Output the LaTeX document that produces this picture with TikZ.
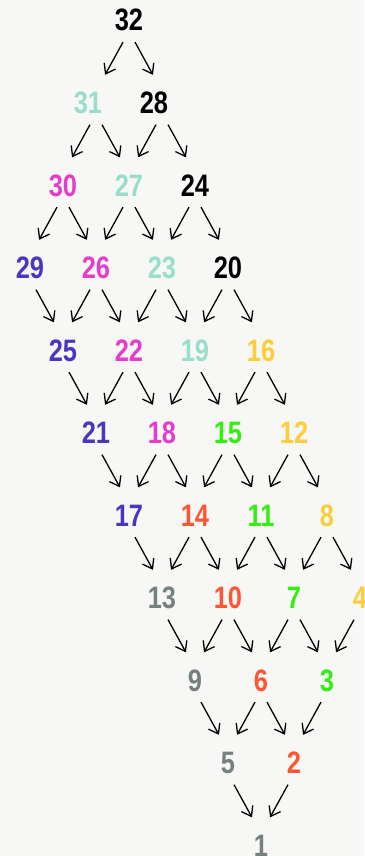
\documentclass[tikz,border=0pt]{standalone}
\usepackage{fontspec}
\setmainfont{Liberation Sans}[FakeStretch=0.82]
\usetikzlibrary{arrows.meta}
\definecolor{paper}{HTML}{F7F8F5}
\definecolor{mint}{HTML}{99DDCC}
\definecolor{orchid}{HTML}{E63CCD}
\definecolor{indigo}{HTML}{4B36C0}
\definecolor{gold}{HTML}{FFCC3A}
\definecolor{lime}{HTML}{33EE11}
\definecolor{coral}{HTML}{FF5533}
\definecolor{slate}{HTML}{778080}

\begin{document}
\begin{tikzpicture}[
  x=1pt,y=-1pt,
  num/.style={inner sep=0pt,text height=22pt,text depth=0pt,
              font=\fontsize{31}{31}\selectfont\bfseries},
  lean/.style={execute at begin node={\kern-16pt}},
  arr/.style={-{Straight Barb[length=9pt,width=13pt]},line width=1.3pt,
              shorten <=12.5pt,shorten >=18.8pt}
]
\clip (0,0) rectangle (364,856);
\fill[paper] (0,0) rectangle (364,856);
% first diagonal
\node[num] (n32) at (129,20) {32};
\node[num,lean] (n28) at (162,102.5) {28};
\node[num] (n24) at (195,185) {24};
\node[num] (n20) at (228,267.5) {20};
\node[num,text=gold] (n16) at (261,350) {16};
\node[num,text=gold] (n12) at (294,432.5) {12};
\node[num,text=gold] (n8) at (327,515) {8};
\node[num,text=gold] (n4) at (360,597.5) {4};
% second diagonal
\node[num,lean,text=mint] (n31) at (96,102.5) {31};
\node[num,text=mint] (n27) at (129,185) {27};
\node[num,text=mint] (n23) at (162,267.5) {23};
\node[num,text=mint] (n19) at (195,350) {19};
\node[num,text=lime] (n15) at (228,432.5) {15};
\node[num,text=lime] (n11) at (261,515) {11};
\node[num,text=lime] (n7) at (294,597.5) {7};
\node[num,text=lime] (n3) at (327,680) {3};
% third diagonal
\node[num,text=orchid] (n30) at (63,185) {30};
\node[num,text=orchid] (n26) at (96,267.5) {26};
\node[num,text=orchid] (n22) at (129,350) {22};
\node[num,text=orchid] (n18) at (162,432.5) {18};
\node[num,text=coral] (n14) at (195,515) {14};
\node[num,text=coral] (n10) at (228,597.5) {10};
\node[num,text=coral] (n6) at (261,680) {6};
\node[num,text=coral] (n2) at (294,762.5) {2};
% fourth diagonal
\node[num,text=indigo] (n29) at (30,267.5) {29};
\node[num,text=indigo] (n25) at (63,350) {25};
\node[num,text=indigo] (n21) at (96,432.5) {21};
\node[num,text=indigo] (n17) at (129,515) {17};
\node[num,text=slate] (n13) at (162,597.5) {13};
\node[num,text=slate] (n9) at (195,680) {9};
\node[num,text=slate] (n5) at (228,762.5) {5};
\node[num,text=slate] (n1) at (261,845) {1};
% arrows
\foreach \n in {2,3,4,6,7,8,10,11,12,14,15,16,18,19,20,22,23,24,26,27,28,30,31,32} {
  \pgfmathtruncatemacro\m{\n-1}
  \draw[arr] (n\n.south) -- (n\m.north);
}
\foreach \n in {5,...,32} {
  \pgfmathtruncatemacro\m{\n-4}
  \draw[arr] (n\n.south) -- (n\m.north);
}
\end{tikzpicture}
\end{document}
